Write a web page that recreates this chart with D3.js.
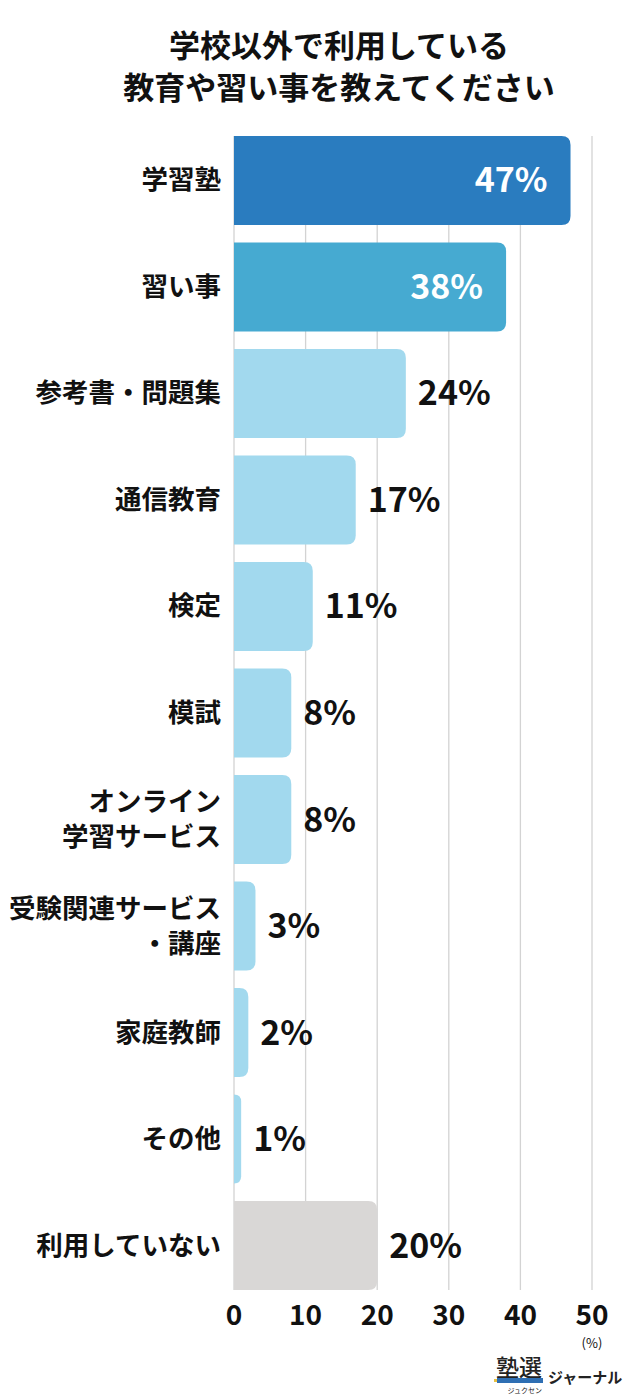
<!DOCTYPE html>
<html><head><meta charset="utf-8">
<script src="https://cdn.jsdelivr.net/npm/d3@7"></script>
<style>body{margin:0;background:#fff;} svg{display:block;font-family:"Noto Sans CJK JP","Noto Sans",sans-serif;}</style>
</head><body>
<svg id="c" width="640" height="1400"></svg>
<script>
const titleLines = ["学校以外で利用している", "教育や習い事を教えてください"];
const categories = ["学習塾","習い事","参考書・問題集","通信教育","検定","模試","オンライン\n学習サービス","受験関連サービス\n・講座","家庭教師","その他","利用していない"];
const values = [47,38,24,17,11,8,8,3,2,1,20];
const colors = ["#2a7cbf","#46aad1","#a2d9ee","#a2d9ee","#a2d9ee","#a2d9ee","#a2d9ee","#a2d9ee","#a2d9ee","#a2d9ee","#d9d7d6"];
const ticks = [0,10,20,30,40,50];

const svg = d3.select("#c");
const x = d3.scaleLinear().domain([0,50]).range([234,592]);
const y = d3.scaleBand().domain(d3.range(categories.length)).range([136,1290]).paddingInner(0.165).paddingOuter(0);

svg.selectAll("text.title").data(titleLines).join("text")
  .attr("x",339).attr("y",(d,i)=>57+i*42).attr("text-anchor","middle")
  .attr("font-size",31).attr("font-weight",700).attr("fill","#111").text(d=>d);

svg.append("g").selectAll("line").data(ticks).join("line")
  .attr("x1",d=>x(d)).attr("x2",d=>x(d)).attr("y1",136).attr("y2",1290)
  .attr("stroke","#d3d3d3").attr("stroke-width",1.3);

const r = 9;
function barPath(x0,x1,y0,h){
  const w = x1-x0, rr = Math.min(r,w);
  return `M${x0},${y0}H${x1-rr}Q${x1},${y0} ${x1},${y0+rr}V${y0+h-rr}Q${x1},${y0+h} ${x1-rr},${y0+h}H${x0}Z`;
}
svg.append("g").selectAll("path").data(values).join("path")
  .attr("d",(d,i)=>barPath(x(0),x(d),y(i),y.bandwidth()))
  .attr("fill",(d,i)=>colors[i]);

svg.append("g").selectAll("text").data(values).join("text")
  .attr("x",(d,i)=> i<2 ? x(d)-23 : x(d)+12)
  .attr("y",(d,i)=>y(i)+y.bandwidth()/2+12)
  .attr("text-anchor",(d,i)=> i<2 ? "end":"start")
  .attr("font-size",34).attr("font-weight",700)
  .attr("fill",(d,i)=> i<2 ? "#fff":"#111")
  .text(d=>d+"%");

const lab = svg.append("g").selectAll("text").data(categories).join("text")
  .attr("text-anchor","end").attr("font-size",26.5).attr("font-weight",700).attr("fill","#111");
lab.each(function(d,i){
  const lines = d.split("\n");
  const cy = y(i)+y.bandwidth()/2;
  d3.select(this).selectAll("tspan").data(lines).join("tspan")
    .attr("x",221).attr("y",(l,j)=>cy+9+(j-(lines.length-1)/2)*35).text(l=>l);
});

svg.append("g").selectAll("text").data(ticks).join("text")
  .attr("x",d=>x(d)).attr("y",1325).attr("text-anchor","middle")
  .attr("font-size",28).attr("font-weight",700).attr("fill","#111").text(d=>d);
svg.append("text").attr("x",x(50)).attr("y",1348).attr("text-anchor","middle")
  .attr("font-size",13).attr("fill","#111").text("(%)");

// logo
const lg = svg.append("g");
lg.append("text").attr("x",496).attr("y",1376).attr("font-size",23).attr("font-weight",500).attr("fill","#222").text("塾選");
lg.append("rect").attr("x",497).attr("y",1378).attr("width",46).attr("height",5).attr("fill","#2f6fb3");
lg.append("rect").attr("x",494).attr("y",1379).attr("width",3).attr("height",3).attr("fill","#e8c040");
lg.append("text").attr("x",542).attr("y",1393).attr("text-anchor","end").attr("font-size",7).attr("fill","#222").text("ジュクセン");
lg.append("text").attr("x",548).attr("y",1383).attr("font-size",15).attr("font-weight",700).attr("fill","#222").text("ジャーナル");
</script>
</body></html>
